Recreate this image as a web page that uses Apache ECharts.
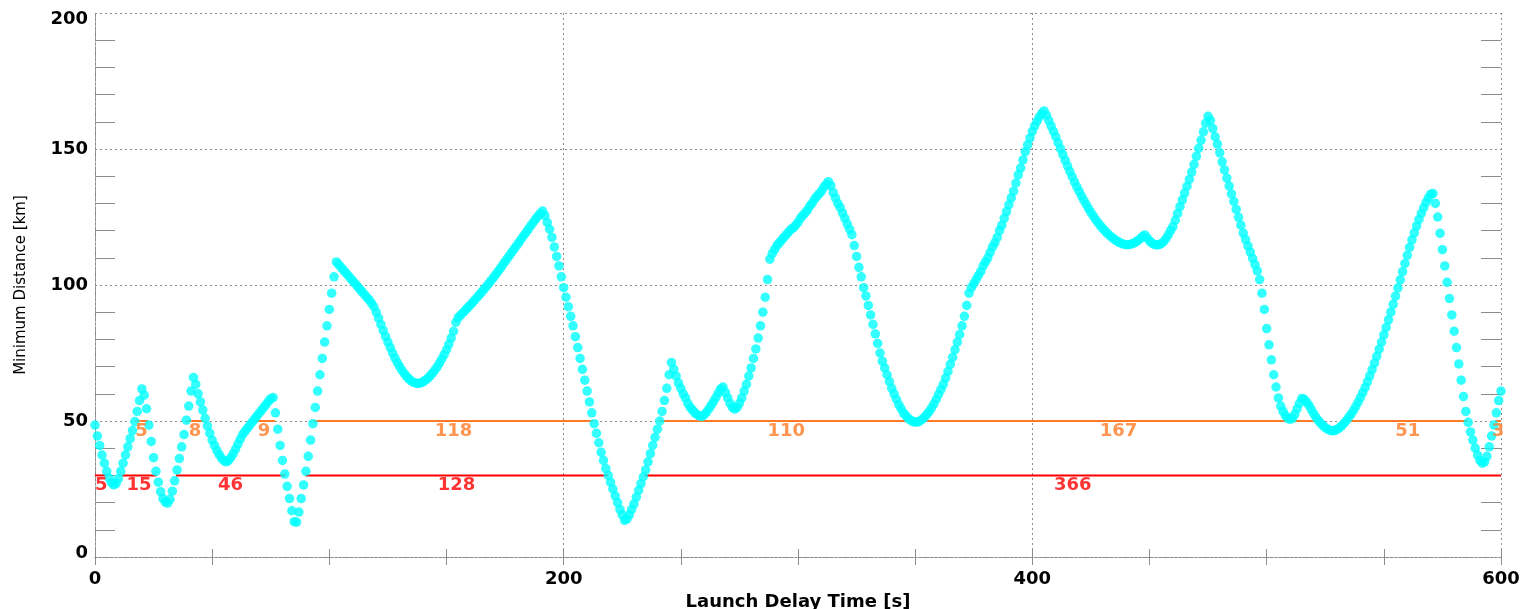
<!DOCTYPE html>
<html>
<head>
<meta charset="utf-8">
<script src="https://cdn.jsdelivr.net/npm/echarts@6/dist/echarts.min.js"></script>
<style>
html,body{margin:0;padding:0;background:#ffffff;overflow:hidden;}
#chart{width:1524px;height:609px;}
</style>
</head>
<body>
<div id="chart"></div>
<script>
// ---- data ----
const delayStep = 1; // one sample per second of launch delay
const xTickLabels = ['0', '200', '400', '600'];
const yTickLabels = ['0', '50', '100', '150', '200'];
const yMinorTicks = [10, 20, 30, 40, 60, 70, 80, 90, 110, 120, 130, 140, 160, 170, 180, 190];

const distance000 = [48.5,44.5,41,37.5,34.5,31.5,29,27.3,26.5,27,28.8,31.5,34.5,37.5,40.5,43.5,46.5,49.8,53.5,57.5,
61.8,59.5,54.5,48.5,42.5,36.5,31.5,27.5,24,21.5,20.2,19.8,21.2,24.2,28,32,36.2,40.5,45,50.3,
55.5,61,66,63.5,60,57,54,51,48.2,45.5,43,41,39.2,37.6,36.3,35.4,35,35.5,36.6,38,
39.7,41.5,43.3,45,46.2,47.3,48.4,49.5,50.6,51.7,52.8,53.9,55,56.1,57.2,58.2,58.6,53,47,41,
35.5,30.5,26,21.5,17,13,12.8,16.5,21.5,26.5,31.5,37,43,49,55,61,67,73,79,85];
const distance100 = [91,97,103,108.5,107.5,106.5,105.5,104.5,103.5,102.5,101.5,100.5,99.5,98.5,97.5,96.5,95.5,94.5,93.3,92,
90,87.8,85.5,83.3,81.1,79,77,75,73.2,71.5,70,68.6,67.4,66.3,65.4,64.7,64.2,63.9,63.8,64,
64.4,65,65.7,66.6,67.6,68.7,69.9,71.3,72.8,74.4,76.2,78.2,80.5,83,86.3,88,88.9,89.8,90.7,91.6,
92.5,93.4,94.4,95.4,96.4,97.4,98.4,99.4,100.5,101.6,102.7,103.8,105,106.2,107.4,108.6,109.8,111,112.2,113.4,
114.6,115.8,117,118.2,119.4,120.6,121.8,123,124.2,125.3,126.3,127.2,125.5,123,120.5,117.5,114,110.5,107,103];
const distance200 = [99,95.5,92,88.5,85,81,77,73,69,65,61,57,53,49,45.5,42,38.5,35.5,32.5,30,
27.5,25,22.5,20,17.5,15.5,13.5,14,15.5,17.5,19.5,22,24.5,27,29.5,32,35,38,41,44,
47,50,53.5,57.5,62,67,71.5,69,66.5,64,62,60,58.5,56.5,55,54,53,52.3,51.8,51.7,
52.3,53.3,54.5,55.8,57.2,58.7,60.3,61.8,62.5,60.5,58.5,56.5,55,54.4,55,56.5,58.5,61,63.5,66.5,
69.5,73,76.5,80.5,85,90,95.5,102,109.5,111.5,113,114.5,115.5,116.5,117.5,118.5,119.5,120.5,121,122];
const distance300 = [123,124.5,125.5,126.5,127.5,129,130,131.5,132.5,133.5,134.5,136,137,138,136.5,134,132,130,128.5,126.5,
124.5,122.5,120.5,118.5,114.5,110.5,106.5,103,99,96,92.5,89,85.5,82,78.5,75,72,69.5,67,64.5,
62,60,58,56,54.5,53,52,51,50.3,49.8,49.6,49.6,50,50.6,51.4,52.4,53.5,54.8,56.3,58,
59.8,61.6,63.5,65.8,68.2,70.8,73.4,76.2,79,81.8,85,88.5,92.5,97,99,100.5,102,103.5,105,107,
108.5,110,112,114,115.5,117.5,120,122,124.5,127,129.5,132,134.5,137.5,140.5,143,146,149,151.5,154];
const distance400 = [156.5,158.5,160.2,161.8,163,164,162.5,160.5,158.5,156.5,154.5,152.3,150.1,148,145.9,143.8,141.8,139.8,137.9,136.1,
134.4,132.7,131.1,129.6,128.1,126.7,125.4,124.1,122.9,121.8,120.8,119.9,119,118.2,117.5,116.8,116.2,115.7,115.3,115,
114.8,114.8,115,115.3,115.7,116.3,117,117.8,118.4,117.3,116.2,115.4,114.9,114.7,114.8,115.2,115.9,117,118.4,120,
121.5,123.8,126.3,128.8,131.3,133.8,136.3,138.8,141.5,144.3,147.3,150.2,153.2,156.3,159.5,162,160.5,157.5,154.5,151.8,
148.6,145.3,142.3,139.3,136.4,133.5,130.7,127.8,124.9,122,119.1,116.7,114.4,112.1,109.8,107.5,105.2,102,97,91];
const distance500 = [84,78,72.5,67,62.5,58.5,55.5,53.5,52,51,50.6,51,52.5,54.5,56.5,58.3,58,57,55.8,54.3,
52.8,51.4,50.2,49.2,48.3,47.6,47,46.6,46.4,46.5,46.9,47.5,48.2,49.1,50.1,51.3,52.4,53.8,55.3,56.9,
58.6,60.4,62.3,64.4,66.6,68.9,71.3,73.8,76.4,79,81.7,84.4,87.2,90,92.9,95.9,98.9,101.9,104.9,107.9,
110.9,113.8,116.6,119.2,121.7,124.1,126.3,128.4,130.3,132,133.4,133.6,130,125,119,113,107,101,95,89,
83,77,71,65,59,53.5,49.5,46,43,40,37.5,35.5,34.5,35,37,40.5,44.5,48.5,53,57.5,61];

// threshold lines and the durations (s) of the stretches above them
const orangeThreshold = 50;
const orangeSegStart = [17, 38.8, 67.5, 93.2, 240.5, 351.5, 534.5, 597.5];
const orangeSegEnd   = [22.7, 46.5, 76.8, 212.7, 349.5, 522, 586, 600];
const orangeSegLabel = ['5', '8', '9', '118', '110', '167', '51', '3'];

const redThreshold = 30;
const redSegStart = [0, 11.3, 34.5, 89.8, 234.5];
const redSegEnd   = [5.4, 26.2, 81.2, 218.8, 600];
const redSegLabel = ['5', '15', '46', '128', '366'];

// ---- chart ----
const allDistances = [].concat(distance000, distance100, distance200, distance300, distance400, distance500);
const dotData = allDistances.map((v, i) => [i * delayStep, v]);

const ORANGE = '#ff7a26';
const RED = '#ff0000';
const GRID_GREY = '#8c8c8c';
const FONT = 'DejaVu Sans';
const GRID = { left: 95, right: 23, top: 13, bottom: 52 };
const PLOT_W = 1524 - GRID.left - GRID.right;

const series = [];
function addThreshold(starts, ends, labels, thr, color) {
  for (let i = 0; i < starts.length; i++) {
    series.push({
      type: 'line', xAxisIndex: 0, yAxisIndex: 0, symbol: 'none', silent: true, z: 2,
      lineStyle: { color: color, width: 2 },
      data: [[starts[i], thr], [ends[i], thr]]
    });
  }
  series.push({
    type: 'scatter', xAxisIndex: 0, yAxisIndex: 0, silent: true, z: 5,
    symbolSize: 1, itemStyle: { color: 'rgba(0,0,0,0)' }, clip: false,
    label: {
      show: true, position: 'inside', offset: [0, 10],
      formatter: p => p.data.name, color: color, fontFamily: FONT, fontSize: 18, fontWeight: 'bold'
    },
    data: labels.map((t, i) => ({ name: t, value: [(starts[i] + ends[i]) / 2, thr] }))
  });
}
addThreshold(orangeSegStart, orangeSegEnd, orangeSegLabel, orangeThreshold, ORANGE);
addThreshold(redSegStart, redSegEnd, redSegLabel, redThreshold, RED);

series.push({
  type: 'scatter', xAxisIndex: 0, yAxisIndex: 0, z: 3,
  symbol: 'circle', symbolSize: 9.5,
  itemStyle: { color: '#00ffff' },
  data: dotData
});

const frameLine = { show: true, lineStyle: { color: GRID_GREY, width: 1, type: [2, 2] } };
const dashed = { show: true, lineStyle: { color: GRID_GREY, width: 1, type: [2, 3] } };
const tickTextStyle = { fontFamily: FONT, fontSize: 18, fontWeight: 'bold', color: '#000' };

// tick-only y axes: an axis placed on the opposite side draws its outward ticks into the plot
function yTickAxis(position) {
  return {
    type: 'value', position: position, offset: -PLOT_W, min: 0, max: 200, interval: 10,
    axisLine: { show: false },
    axisTick: { show: true, inside: false, length: 20, customValues: yMinorTicks, lineStyle: { color: GRID_GREY } },
    axisLabel: { show: false }, splitLine: { show: false }
  };
}

const option = {
  animation: false,
  backgroundColor: '#ffffff',
  grid: Object.assign({ containLabel: false, outerBoundsMode: 'none' }, GRID),
  xAxis: [
    {
      type: 'value', position: 'bottom', min: 0, max: 600, interval: 200,
      axisLine: frameLine,
      axisTick: { show: true, inside: true, length: 8, lineStyle: { color: GRID_GREY } },
      minorTick: { show: true, splitNumber: 4, length: 8, lineStyle: { color: GRID_GREY } },
      splitLine: dashed,
      axisLabel: Object.assign({ margin: 13, formatter: v => xTickLabels[Math.round(v / 200)] }, tickTextStyle),
      name: 'Launch Delay Time [s]', nameLocation: 'middle', nameGap: 28,
      nameTextStyle: { fontFamily: FONT, fontSize: 18, fontWeight: 'bold', color: '#000' }
    },
    {
      type: 'value', position: 'top', min: 0, max: 600, interval: 200,
      axisLine: frameLine,
      axisTick: { show: true, inside: true, length: 8, lineStyle: { color: GRID_GREY } },
      minorTick: { show: true, splitNumber: 4, length: 8, lineStyle: { color: GRID_GREY } },
      splitLine: { show: false }, axisLabel: { show: false }
    }
  ],
  yAxis: [
    {
      type: 'value', position: 'left', min: 0, max: 200, interval: 50,
      axisLine: frameLine,
      axisTick: { show: false },
      splitLine: dashed,
      axisLabel: Object.assign({
        margin: 7,
        formatter: v => {
          const t = yTickLabels[Math.round(v / 50)];
          if (v === 200) return '{top|' + t + '}';
          if (v === 0) return '{bot|' + t + '}';
          return t;
        },
        rich: {
          top: Object.assign({ padding: [12, 0, 0, 0] }, tickTextStyle),
          bot: Object.assign({ padding: [0, 0, 7, 0] }, tickTextStyle)
        }
      }, tickTextStyle),
      name: 'Minimum Distance [km]', nameLocation: 'middle', nameGap: 66, nameRotate: 90,
      nameTextStyle: { fontFamily: FONT, fontSize: 15, color: '#000' }
    },
    {
      type: 'value', position: 'right', min: 0, max: 200, interval: 50,
      axisLine: frameLine,
      axisTick: { show: false },
      splitLine: { show: false }, axisLabel: { show: false }
    },
    yTickAxis('right'),  // sits on the left frame, ticks point right
    yTickAxis('left')    // sits on the right frame, ticks point left
  ],
  series: series
};

const chart = echarts.init(document.getElementById('chart'), null, { renderer: 'canvas' });
chart.setOption(option);
</script>
</body>
</html>
